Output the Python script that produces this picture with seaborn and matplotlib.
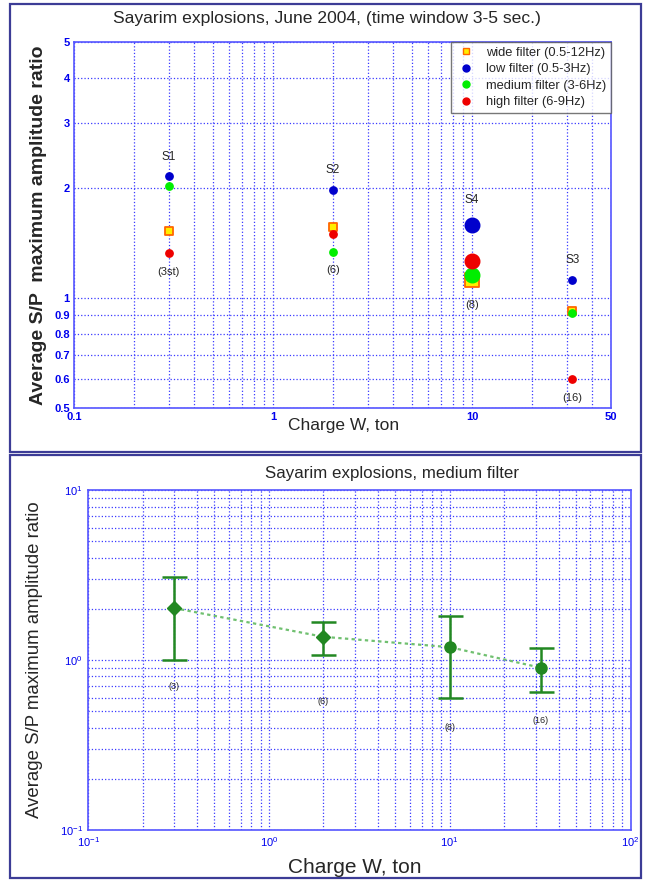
import numpy as np
import pandas as pd
import matplotlib
matplotlib.use("Agg")
import matplotlib.pyplot as plt
import matplotlib.ticker as mticker
from matplotlib.patches import Rectangle
from matplotlib.lines import Line2D
import seaborn as sns

# ---------------- data ----------------
charges = [0.3, 2, 10, 32]
shots = ["S1", "S2", "S4", "S3"]
wide_vals = [1.53, 1.56, 1.12, 0.92]
low_vals = [2.15, 1.97, 1.58, 1.12]
medium_vals = [2.03, 1.34, 1.16, 0.91]
high_vals = [1.33, 1.50, 1.26, 0.60]
top_counts = ["(3st)", "(6)", "(8)", "(16)"]
marker_big = [False, False, True, False]

filter_names = ["wide filter (0.5-12Hz)", "low filter (0.5-3Hz)",
                "medium filter (3-6Hz)", "high filter (6-9Hz)"]

med_mean = [2.02, 1.37, 1.19, 0.90]
med_lo = [1.00, 1.07, 0.60, 0.65]
med_hi = [3.08, 1.68, 1.81, 1.18]
bot_counts = ["(3)", "(6)", "(8)", "(16)"]
bot_count_y = [0.70, 0.57, 0.40, 0.44]

top_yticks = [0.5, 0.6, 0.7, 0.8, 0.9, 1, 2, 3, 4, 5]
top_xticks = [0.1, 1, 10, 50]

# ---------------- style ----------------
sns.set_theme(style="white")
plt.rcParams["font.family"] = ["Liberation Sans", "DejaVu Sans"]
plt.rcParams["mathtext.fontset"] = "custom"
plt.rcParams["mathtext.rm"] = "Liberation Sans"
plt.rcParams["mathtext.it"] = "Liberation Sans"
plt.rcParams["mathtext.bf"] = "Liberation Sans:bold"

BLUE = "#0000ee"
GRID = "#3a3aff"
FRAME = "#3c3c96"

fig = plt.figure(figsize=(6.48, 8.8), dpi=100)

# panel frames
fig.add_artist(Rectangle((0.0154, 0.4864), 0.974, 0.509, transform=fig.transFigure,
                         fill=False, edgecolor=FRAME, lw=1.6))
fig.add_artist(Rectangle((0.0154, 0.0023), 0.974, 0.481, transform=fig.transFigure,
                         fill=False, edgecolor=FRAME, lw=1.6))

# ---------------- top panel ----------------
ax1 = fig.add_axes([0.114, 0.536, 0.829, 0.416])
rows = []
for i, x in enumerate(charges):
    for name, vals in zip(filter_names, [wide_vals, low_vals, medium_vals, high_vals]):
        rows.append(dict(charge=x, ratio=vals[i], filt=name, big=marker_big[i]))
df = pd.DataFrame(rows)

colors = {filter_names[0]: "#ffee00", filter_names[1]: "#0000cc",
          filter_names[2]: "#00ee00", filter_names[3]: "#ee0000"}
markers = {filter_names[0]: "s", filter_names[1]: "o",
           filter_names[2]: "o", filter_names[3]: "o"}
edges = {filter_names[0]: "#ff6600", filter_names[1]: "#0000cc",
         filter_names[2]: "#00ee00", filter_names[3]: "#ee0000"}

for name in filter_names:
    sub = df[df.filt == name]
    for big, s in [(False, 28), (True, 110)]:
        part = sub[sub.big == big]
        sns.scatterplot(data=part, x="charge", y="ratio", ax=ax1, color=colors[name],
                        marker=markers[name], s=s, edgecolor=edges[name],
                        linewidth=1.3 if markers[name] == "s" else 1.0,
                        zorder=3, legend=False)

ax1.set_xscale("log")
ax1.set_yscale("log")
ax1.set_xlim(0.1, 50)
ax1.set_ylim(0.5, 5)
ax1.yaxis.set_major_locator(mticker.FixedLocator(top_yticks))
ax1.yaxis.set_major_formatter(mticker.FixedFormatter([str(v) for v in top_yticks]))
ax1.yaxis.set_minor_locator(mticker.NullLocator())
ax1.xaxis.set_major_locator(mticker.FixedLocator(top_xticks))
ax1.xaxis.set_major_formatter(mticker.FixedFormatter([str(v) for v in top_xticks]))
ax1.xaxis.set_minor_locator(mticker.LogLocator(base=10, subs=np.arange(2, 10)))
ax1.xaxis.set_minor_formatter(mticker.NullFormatter())
ax1.grid(True, which="both", axis="x", color=GRID, ls=":", lw=0.9)
ax1.grid(True, which="major", axis="y", color=GRID, ls=":", lw=0.9)
ax1.tick_params(axis="both", which="both", direction="in", colors=BLUE,
                labelsize=8, length=3, pad=3)
for lab in ax1.get_xticklabels() + ax1.get_yticklabels():
    lab.set_fontweight("bold")
for sp in ax1.spines.values():
    sp.set_color("#5555ff")
    sp.set_linewidth(1.2)
ax1.set_xlabel("")
ax1.set_ylabel("")

for i, x in enumerate(charges):
    top_v = max(wide_vals[i], low_vals[i], medium_vals[i], high_vals[i])
    bot_v = min(wide_vals[i], low_vals[i], medium_vals[i], high_vals[i])
    off = 14 if marker_big[i] else 10
    ax1.annotate(shots[i], (x, top_v), xytext=(0, off), textcoords="offset points",
                 ha="center", va="bottom", fontsize=8.5)
    ax1.annotate(top_counts[i], (x, bot_v), xytext=(0, -off), textcoords="offset points",
                 ha="center", va="top", fontsize=8)

handles = [Line2D([], [], ls="", marker=markers[n], color=colors[n],
                  markeredgecolor=edges[n], markersize=5, label=n) for n in filter_names]
leg = ax1.legend(handles=handles, loc="upper right", fontsize=9.3, frameon=True,
                 fancybox=False, edgecolor="#555555", handletextpad=0.8,
                 borderaxespad=0.0, labelspacing=0.35, handlelength=1.6,
                 borderpad=0.35)
leg.get_frame().set_linewidth(1.0)

fig.text(0.505, 0.979, "Sayarim explosions, June 2004, (time window 3-5 sec.)",
         ha="center", va="center", fontsize=12.6)
fig.text(0.53, 0.517, "Charge W, ton", ha="center", va="center", fontsize=12.5)
fig.text(0.059, 0.744, "Average S/P  maximum amplitude ratio", ha="center",
         va="center", rotation=90, fontsize=14, fontweight="bold")

# ---------------- bottom panel ----------------
ax2 = fig.add_axes([0.136, 0.057, 0.837, 0.386])
dfb = pd.DataFrame(dict(charge=charges, ratio=med_mean))
sns.lineplot(data=dfb, x="charge", y="ratio", ax=ax2, color="#70c070",
             linestyle=(0, (1.5, 1.5)), lw=1.6, zorder=2)
yerr = [np.array(med_mean) - np.array(med_lo), np.array(med_hi) - np.array(med_mean)]
ax2.errorbar(charges, med_mean, yerr=yerr, fmt="none", ecolor="#228822",
             elinewidth=1.8, capsize=9, capthick=1.8, zorder=3)
bmark = ["D", "D", "o", "o"]
for i in range(len(charges)):
    ax2.plot(charges[i], med_mean[i], marker=bmark[i], color="#228822",
             markersize=7 if bmark[i] == "D" else 8, ls="", zorder=4)
for i, x in enumerate(charges):
    ax2.text(x, bot_count_y[i], bot_counts[i], ha="center", va="center", fontsize=6.5)

ax2.set_xscale("log")
ax2.set_yscale("log")
ax2.set_xlim(0.1, 100)
ax2.set_ylim(0.1, 10)
ax2.xaxis.set_minor_locator(mticker.LogLocator(base=10, subs=np.arange(2, 10)))
ax2.yaxis.set_minor_locator(mticker.LogLocator(base=10, subs=np.arange(2, 10)))
ax2.xaxis.set_minor_formatter(mticker.NullFormatter())
ax2.yaxis.set_minor_formatter(mticker.NullFormatter())
ax2.grid(True, which="both", color=GRID, ls=":", lw=0.9)
ax2.tick_params(axis="both", which="both", direction="in", colors=BLUE,
                labelsize=8, length=3, pad=4)
for sp in ax2.spines.values():
    sp.set_color("#5555ff")
    sp.set_linewidth(1.2)
ax2.set_xlabel("")
ax2.set_ylabel("")

fig.text(0.605, 0.4625, "Sayarim explosions, medium filter", ha="center",
         va="center", fontsize=12.2)
fig.text(0.548, 0.0145, "Charge W, ton", ha="center", va="center", fontsize=15)
fig.text(0.054, 0.25, "Average S/P maximum amplitude ratio", ha="center",
         va="center", rotation=90, fontsize=13.4)

fig.savefig("out.png", dpi=100)
